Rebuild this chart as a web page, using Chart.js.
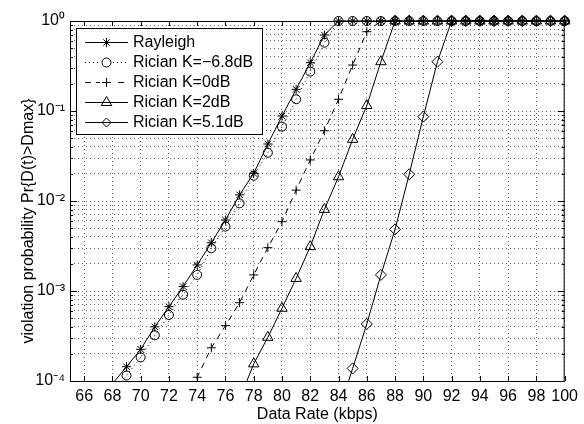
<!DOCTYPE html>
<html>
<head>
<meta charset="utf-8">
<script src="https://cdn.jsdelivr.net/npm/chart.js"></script>
<style>
  html, body { margin: 0; padding: 0; background: #fff; }
  #wrap { width: 584px; height: 424px; }
</style>
</head>
<body>
<div id="wrap"><canvas id="rateChart" width="584" height="424"></canvas></div>
<script>
// data rate (kbps), one entry per integer rate
const rates = [65, 66, 67, 68, 69, 70, 71, 72, 73, 74, 75, 76, 77, 78, 79, 80, 81, 82,
               83, 84, 85, 86, 87, 88, 89, 90, 91, 92, 93, 94, 95, 96, 97, 98, 99, 100];

// violation probability (null = not plotted)
const rayleigh = [null, null, null, 9.3e-5, 1.44e-4, 2.25e-4, 4.0e-4, 6.7e-4, 1.12e-3, 1.95e-3,
                  3.44e-3, 6.15e-3, 1.17e-2, 2.03e-2, 4.30e-2, 8.79e-2, 0.174, 0.344, 0.698,
                  1, 1, 1, 1, 1, 1, 1, 1, 1, 1, 1, 1, 1, 1, 1, 1, 1];
const ricianM68 = [null, null, null, 7.1e-5, 1.15e-4, 1.83e-4, 3.22e-4, 5.41e-4, 9.1e-4, 1.51e-3,
                   2.98e-3, 5.19e-3, 9.42e-3, 1.91e-2, 3.44e-2, 6.7e-2, 0.135, 0.274, 0.574,
                   1, 1, 1, 1, 1, 1, 1, 1, 1, 1, 1, 1, 1, 1, 1, 1, 1];
const rician0 = [null, null, null, null, null, null, null, null, 5.0e-5, 1.10e-4, 2.34e-4, 4.12e-4,
                 7.41e-4, 1.51e-3, 3.03e-3, 5.89e-3, 1.32e-2, 2.86e-2, 6.03e-2, 0.135, 0.324, 0.760,
                 1, 1, 1, 1, 1, 1, 1, 1, 1, 1, 1, 1, 1, 1];
const rician2 = [null, null, null, null, null, null, null, null, null, null, null, null, 6.3e-5,
                 1.55e-4, 3.06e-4, 6.43e-4, 1.38e-3, 3.11e-3, 8.07e-3, 1.86e-2, 4.84e-2, 0.115, 0.353,
                 1, 1, 1, 1, 1, 1, 1, 1, 1, 1, 1, 1, 1];
const rician51 = [null, null, null, null, null, null, null, null, null, null, null, null, null, null,
                  null, null, null, null, null, 4.5e-5, 1.38e-4, 4.30e-4, 1.51e-3, 4.84e-3, 1.98e-2,
                  8.65e-2, 0.353, 1, 1, 1, 1, 1, 1, 1, 1, 1];

const seriesNames = ['Rayleigh', 'Rician K=\u22126.8dB', 'Rician K=0dB', 'Rician K=2dB', 'Rician K=5.1dB'];

// tick labels
const xTicks = [66, 68, 70, 72, 74, 76, 78, 80, 82, 84, 86, 88, 90, 92, 94, 96, 98, 100];
const yMajor = [1e-4, 1e-3, 1e-2, 1e-1, 1];
const yLabels = ['10\u207B\u2074', '10\u207B\u00B3', '10\u207B\u00B2', '10\u207B\u00B9', '10\u2070'];
const yMantissa = [1, 2, 3, 4, 5, 6, 7, 8, 9];

const FONT = "'Liberation Sans', Arial, sans-serif";
const YMIN = 1e-4, YMAX = 1;
const GRID = 'rgba(0,0,0,0.6)';

function toPoints(ys) {
    const pts = [];
    ys.forEach(function(y, i) {
        if (y !== null) pts.push({x: rates[i], y: y});
    });
    return pts;
}

function makeSet(label, ys, style, dash, radius) {
    return {
        label: label,
        data: toPoints(ys),
        borderColor: '#000',
        backgroundColor: 'rgba(0,0,0,0)',
        borderWidth: 1,
        borderDash: dash,
        pointStyle: style,
        pointBorderColor: '#000',
        pointBackgroundColor: 'rgba(0,0,0,0)',
        pointBorderWidth: 1,
        // hide markers that fall under the axis
        pointRadius: function(c) { return (c.raw && c.raw.y < YMIN) ? 0 : radius; },
        pointHoverRadius: radius,
        tension: 0,
        clip: {left: 0, top: 10, right: 10, bottom: 0}
    };
}

// small marker drawer for the legend
function drawMarker(ctx, style, x, y, r) {
    ctx.beginPath();
    if (style === 'circle') {
        ctx.arc(x, y, r, 0, Math.PI * 2);
    } else if (style === 'cross') {
        ctx.moveTo(x - r, y); ctx.lineTo(x + r, y);
        ctx.moveTo(x, y - r); ctx.lineTo(x, y + r);
    } else if (style === 'star') {
        ctx.moveTo(x - r, y); ctx.lineTo(x + r, y);
        ctx.moveTo(x, y - r); ctx.lineTo(x, y + r);
        const d = r * Math.SQRT1_2;
        ctx.moveTo(x - d, y - d); ctx.lineTo(x + d, y + d);
        ctx.moveTo(x - d, y + d); ctx.lineTo(x + d, y - d);
    } else if (style === 'triangle') {
        ctx.moveTo(x, y - r);
        ctx.lineTo(x + r * 0.866, y + r * 0.5);
        ctx.lineTo(x - r * 0.866, y + r * 0.5);
        ctx.closePath();
    } else if (style === 'rectRot') {
        ctx.moveTo(x, y - r); ctx.lineTo(x + r, y);
        ctx.lineTo(x, y + r); ctx.lineTo(x - r, y);
        ctx.closePath();
    }
    ctx.stroke();
}

const framePlugin = {
    id: 'frame',
    afterDatasetsDraw(chart) {
        const ctx = chart.ctx;
        const a = chart.chartArea;
        const xs = chart.scales.x, ys = chart.scales.y;
        ctx.save();
        ctx.strokeStyle = '#000';
        ctx.lineWidth = 1;
        ctx.setLineDash([]);
        ctx.strokeRect(a.left + 0.5, a.top + 0.5, a.right - a.left - 1, a.bottom - a.top);
        ctx.beginPath();
        xTicks.forEach(function(v) {
            const px = Math.round(xs.getPixelForValue(v)) + 0.5;
            ctx.moveTo(px, a.bottom); ctx.lineTo(px, a.bottom - 5);
            ctx.moveTo(px, a.top); ctx.lineTo(px, a.top + 5);
        });
        ys.ticks.forEach(function(t) {
            const py = Math.round(ys.getPixelForValue(t.value)) + 0.5;
            const len = yMajor.indexOf(t.value) >= 0 ? 7 : 3;
            ctx.moveTo(a.left, py); ctx.lineTo(a.left + len, py);
            ctx.moveTo(a.right, py); ctx.lineTo(a.right - len, py);
        });
        ctx.stroke();

        // legend box, top-left inside the axes
        const bx = a.left + 6, by = a.top + 7, bw = 186, bh = 106;
        ctx.fillStyle = '#fff';
        ctx.fillRect(bx, by, bw, bh);
        ctx.strokeRect(bx + 0.5, by + 0.5, bw, bh);
        ctx.font = '16px ' + FONT;
        ctx.textBaseline = 'middle';
        ctx.textAlign = 'left';
        chart.data.datasets.forEach(function(ds, i) {
            const ry = by + 14 + i * 20;
            ctx.setLineDash(ds.borderDash || []);
            ctx.beginPath();
            ctx.moveTo(bx + 9, ry + 0.5); ctx.lineTo(bx + 52, ry + 0.5);
            ctx.stroke();
            ctx.setLineDash([]);
            if (ds.pointStyle === 'circle' || ds.borderDash.length) {
                ctx.fillStyle = '#fff';
                ctx.fillRect(bx + 24, ry - 6, 13, 12);
            }
            drawMarker(ctx, ds.pointStyle, bx + 30.5, ry + 0.5, ds.pointStyle === 'triangle' ? 6 : 4.5);
            ctx.fillStyle = '#000';
            ctx.fillText(ds.label, bx + 57, ry + 1);
        });
        ctx.restore();
    }
};

const ctx = document.getElementById('rateChart').getContext('2d');
new Chart(ctx, {
    type: 'line',
    data: {
        datasets: [
            makeSet(seriesNames[0], rayleigh, 'star', [], 4.5),
            makeSet(seriesNames[1], ricianM68, 'circle', [1, 3], 4.5),
            makeSet(seriesNames[2], rician0, 'cross', [6, 5], 4.5),
            makeSet(seriesNames[3], rician2, 'triangle', [], 6),
            makeSet(seriesNames[4], rician51, 'rectRot', [], 5.5)
        ]
    },
    options: {
        responsive: false,
        devicePixelRatio: 1,
        animation: false,
        layout: {padding: {left: 0, right: 16, top: 21, bottom: 0}},
        plugins: {
            legend: {display: false},
            tooltip: {enabled: false}
        },
        scales: {
            x: {
                type: 'linear',
                min: 65,
                max: 100,
                afterBuildTicks: function(scale) {
                    scale.ticks = xTicks.map(function(v) { return {value: v}; });
                },
                afterFit: function(scale) { scale.height = 43; },
                ticks: {
                    autoSkip: false,
                    maxRotation: 0,
                    padding: 6,
                    color: '#000',
                    font: {family: FONT, size: 16}
                },
                grid: {color: GRID, lineWidth: 1, drawTicks: false},
                border: {display: false, dash: [1, 3]},
                title: {
                    display: true,
                    text: 'Data Rate (kbps)',
                    color: '#000',
                    font: {family: FONT, size: 16},
                    padding: {top: 0, bottom: 0}
                }
            },
            y: {
                type: 'logarithmic',
                min: YMIN,
                max: YMAX,
                afterBuildTicks: function(scale) {
                    const t = [];
                    for (let e = -4; e < 0; e++) {
                        yMantissa.forEach(function(m) { t.push({value: m * Math.pow(10, e)}); });
                    }
                    t.push({value: 1});
                    scale.ticks = t;
                },
                afterFit: function(scale) { scale.width = 70; },
                ticks: {
                    autoSkip: false,
                    padding: 5,
                    color: '#000',
                    font: {family: FONT, size: 16},
                    callback: function(value) {
                        for (let i = 0; i < yMajor.length; i++) {
                            if (Math.abs(value - yMajor[i]) < yMajor[i] * 1e-6) return yLabels[i];
                        }
                        return '';
                    }
                },
                grid: {color: GRID, lineWidth: 1, drawTicks: false},
                border: {display: false, dash: [1, 3]},
                title: {
                    display: true,
                    // trailing em spaces push the label down, as in the original figure
                    text: 'violation probability Pr{D(t)>Dmax}\u2003\u2003\u2002',
                    color: '#000',
                    font: {family: FONT, size: 16},
                    padding: {top: 19, bottom: 0}
                }
            }
        }
    },
    plugins: [framePlugin]
});
</script>
</body>
</html>
